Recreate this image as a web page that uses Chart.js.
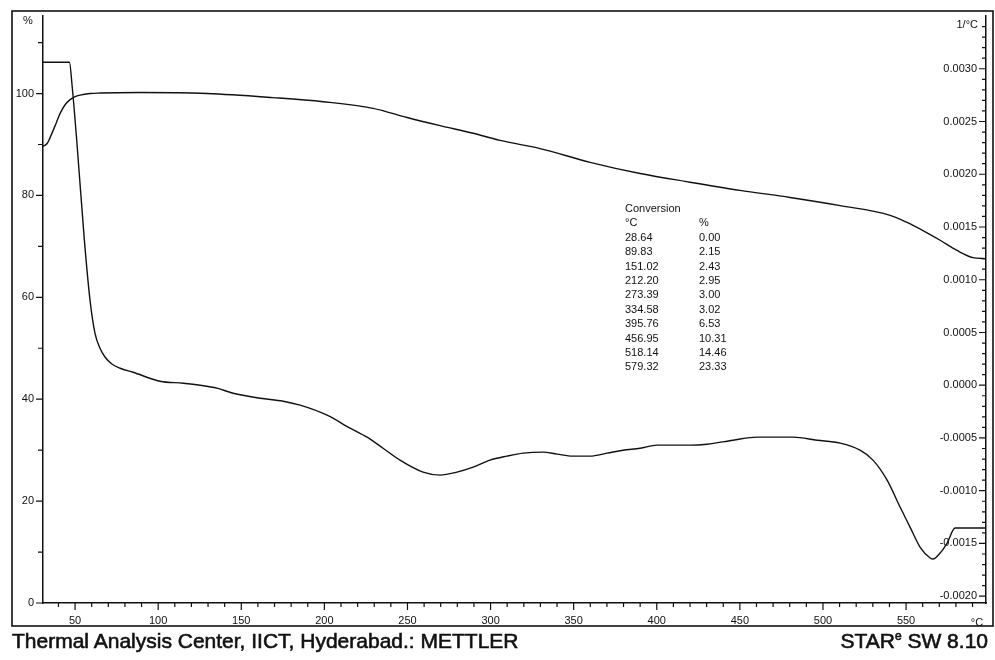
<!DOCTYPE html>
<html>
<head>
<meta charset="utf-8">
<title>TG / DTG curve</title>
<script src="https://cdn.jsdelivr.net/npm/chart.js@4.4.1/dist/chart.umd.min.js"></script>
<style>
  body { margin: 0; background: #fff; font-family: 'Liberation Sans', Arial, sans-serif; color: #111; }
  #wrap { position: relative; width: 995px; height: 660px; overflow: hidden; }
  #chart { position: absolute; left: 0; top: 0; }
  .unit { position: absolute; font-size: 11px; line-height: 13px; white-space: nowrap; }
  #conv { position: absolute; left: 625px; top: 201px; font-size: 11px; line-height: 14.4px; }
  #conv td { padding: 0; vertical-align: top; }
  #conv td.c1 { width: 74px; }
  .foot { position: absolute; top: 630px; font-size: 21px; line-height: 21px; white-space: nowrap; -webkit-text-stroke: 0.6px #111; }
  .foot sup { font-size: 12px; line-height: 0; vertical-align: 8px; }
</style>
</head>
<body>
<div id="wrap">
  <canvas id="chart" width="995" height="660"></canvas>
  <div class="unit" style="left:18px; top:14px; width:20px; text-align:center;">%</div>
  <div class="unit" style="right:17px; top:18px;">1/°C</div>
  <div class="unit" style="left:967px; top:616px; width:20px; text-align:center;">°C</div>
  <table id="conv" cellspacing="0" cellpadding="0"><tbody id="convBody"></tbody></table>
  <div class="foot" style="left:12px;">Thermal Analysis Center, IICT, Hyderabad.: METTLER</div>
  <div class="foot" style="right:7px;">STAR<sup>e</sup> SW 8.10</div>
</div>
<script>
// mass curve (left axis, %)
const tgTemp = [30.7, 33.2, 35.0, 38.0, 41.0, 44.0, 47.0, 50.0, 53.0, 59.0, 65.0, 89.1, 129.4, 169.1, 199.2, 229.3, 249.8, 269.6, 289.5, 305.7, 329.8, 359.9, 390.0, 420.0, 450.1, 480.2, 510.3, 540.4, 550.6, 560.2, 570.5, 580.7, 590.3, 598.1];
const tgMass = [89.6, 90.2, 91.4, 93.7, 96.1, 97.8, 98.8, 99.4, 99.7, 100.0, 100.1, 100.2, 100.0, 99.2, 98.4, 97.1, 95.3, 93.7, 92.2, 90.8, 89.2, 86.5, 84.3, 82.6, 81.0, 79.6, 78.0, 76.1, 74.7, 73.1, 71.2, 69.2, 67.8, 67.6];

// derivative curve (right axis, 1/°C)
const dtgTemp = [30.7, 46.6, 48.2, 51.0, 55.6, 59.0, 62.0, 65.0, 68.1, 72.3, 77.1, 84.9, 101.1, 115.0, 125.2, 135.4, 145.1, 161.3, 175.2, 185.4, 201.6, 215.5, 225.7, 235.3, 245.5, 259.4, 269.6, 279.8, 289.5, 299.7, 309.9, 319.6, 331.6, 340.0, 349.6, 359.9, 370.1, 379.7, 390.0, 400.2, 420.0, 430.3, 445.9, 460.4, 482.0, 496.5, 510.3, 522.3, 530.1, 538.6, 546.4, 552.4, 558.4, 564.5, 566.2, 570.5, 574.7, 579.5, 598.1];
const dtgRate = [0.003062, 0.003062, 0.002841, 0.002320, 0.001373, 0.000805, 0.000492, 0.000350, 0.000265, 0.000199, 0.000161, 0.000123, 0.000038, 0.000019, 0.0, -0.000028, -0.000076, -0.000123, -0.000152, -0.000189, -0.000284, -0.000407, -0.000492, -0.000597, -0.000710, -0.000824, -0.000852, -0.000824, -0.000777, -0.000710, -0.000672, -0.000644, -0.000634, -0.000653, -0.000672, -0.000672, -0.000644, -0.000616, -0.000597, -0.000568, -0.000568, -0.000559, -0.000521, -0.000492, -0.000492, -0.000521, -0.000549, -0.000616, -0.000710, -0.000900, -0.001155, -0.001345, -0.001534, -0.001638, -0.001648, -0.001591, -0.001496, -0.001354, -0.001354];

// conversion table
const convTemp = ['28.64', '89.83', '151.02', '212.20', '273.39', '334.58', '395.76', '456.95', '518.14', '579.32'];
const convPct = ['0.00', '2.15', '2.43', '2.95', '3.00', '3.02', '6.53', '10.31', '14.46', '23.33'];

// axis labels
const xLabels = [50, 100, 150, 200, 250, 300, 350, 400, 450, 500, 550];
const yLabels = [0, 20, 40, 60, 80, 100];
const y1Labels = [-0.0020, -0.0015, -0.0010, -0.0005, 0.0, 0.0005, 0.0010, 0.0015, 0.0020, 0.0025, 0.0030];

const ink = '#111';
const tickFont = { family: "'Liberation Sans', Arial, sans-serif", size: 11 };

// fill the conversion table
const body = document.getElementById('convBody');
body.innerHTML = '<tr><td colspan="2">Conversion</td></tr><tr><td class="c1">°C</td><td>%</td></tr>' +
  convTemp.map((t, i) => `<tr><td class="c1">${t}</td><td>${convPct[i]}</td></tr>`).join('');

// minor + major tick marks and the outer frame
const tickMarks = {
  id: 'tickMarks',
  afterDraw(chart) {
    const { ctx, chartArea: area } = chart;
    const { x, y, y1 } = chart.scales;
    ctx.save();
    ctx.strokeStyle = ink;
    ctx.lineWidth = 1.2;
    ctx.beginPath();
    for (let i = 0; i <= 11; i++) {
      const py = y.getPixelForValue(i * 10);
      const len = i % 2 === 0 ? 7 : 5;
      ctx.moveTo(area.left - len, py);
      ctx.lineTo(area.left, py);
    }
    for (let i = -20; i <= 34; i++) {
      const py = y1.getPixelForValue(i / 10000);
      const len = i % 5 === 0 ? 7 : 4;
      ctx.moveTo(area.right - len, py);
      ctx.lineTo(area.right, py);
    }
    for (let t = 40; t <= 590; t += 10) {
      const px = x.getPixelForValue(t);
      const len = t % 50 === 0 ? 7 : 4;
      ctx.moveTo(px, area.bottom);
      ctx.lineTo(px, area.bottom + len);
    }
    ctx.stroke();
    ctx.lineWidth = 1.6;
    ctx.strokeRect(12, 11, 981, 615);
    ctx.restore();
  }
};

new Chart(document.getElementById('chart'), {
  type: 'line',
  data: {
    datasets: [
      {
        data: tgTemp.map((t, i) => ({ x: t, y: tgMass[i] })),
        yAxisID: 'y',
        borderColor: ink,
        borderWidth: 1.4,
        cubicInterpolationMode: 'monotone'
      },
      {
        data: dtgTemp.map((t, i) => ({ x: t, y: dtgRate[i] })),
        yAxisID: 'y1',
        borderColor: ink,
        borderWidth: 1.4,
        cubicInterpolationMode: 'monotone'
      }
    ]
  },
  options: {
    responsive: false,
    animation: false,
    devicePixelRatio: 1,
    layout: { padding: { top: 15, right: 0, bottom: 0, left: 0 } },
    elements: { point: { radius: 0 } },
    plugins: { legend: { display: false }, tooltip: { enabled: false } },
    scales: {
      x: {
        type: 'linear',
        min: 30.7,
        max: 598.1,
        grid: { display: false, drawTicks: false },
        border: { color: ink, width: 1.5 },
        afterBuildTicks: s => { s.ticks = xLabels.map(v => ({ value: v })); },
        afterFit: s => { s.height = 57; },
        ticks: { autoSkip: false, maxRotation: 0, padding: 11, font: tickFont, color: ink }
      },
      y: {
        position: 'left',
        min: 0,
        max: 115.3,
        grid: { display: false, drawTicks: false },
        border: { color: ink, width: 1.5 },
        afterBuildTicks: s => { s.ticks = yLabels.map(v => ({ value: v })); },
        afterFit: s => { s.width = 43; },
        ticks: { autoSkip: false, padding: 9, font: tickFont, color: ink }
      },
      y1: {
        position: 'right',
        min: -0.0020644,
        max: 0.0035038,
        grid: { display: false, drawTicks: false },
        border: { color: ink, width: 1.5 },
        afterBuildTicks: s => { s.ticks = y1Labels.map(v => ({ value: v })); },
        afterFit: s => { s.width = 9; },
        ticks: {
          autoSkip: false,
          mirror: true,
          padding: -9,
          font: tickFont,
          color: ink,
          callback: v => v.toFixed(4)
        }
      }
    }
  },
  plugins: [tickMarks]
});
</script>
</body>
</html>
